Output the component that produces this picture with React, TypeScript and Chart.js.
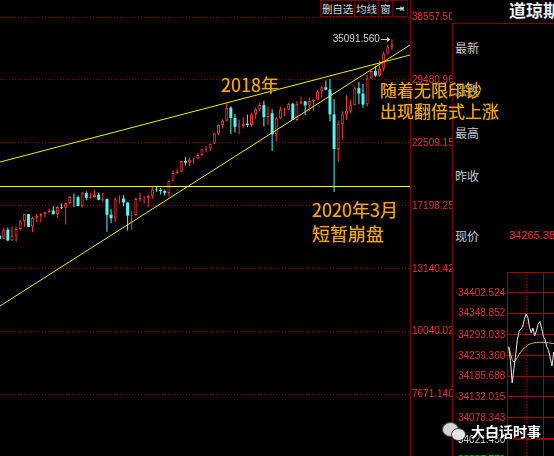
import React, { useEffect, useRef } from 'react';
import { Chart, registerables } from 'chart.js';

Chart.register(...registerables);

// ---------- Monthly candles (Dow Jones), first bar = 2013-06, last = 2021-05 ----------
const startYear = 2013;
const startMonth = 6;

const opens = [
  15116, 14911, 15500, 14810, 15130, 15546, 16086,
  16577, 15699, 16322, 16458, 16581, 16717, 16827, 16563, 17098, 17043, 17391, 17828,
  17823, 17165, 18133, 17776, 17841, 18011, 17620, 17690, 16528, 16285, 17664, 17720,
  17425, 16466, 16517, 17685, 17774, 17787, 17930, 18432, 18401, 18308, 18142, 19124,
  19763, 19864, 20812, 20663, 20940, 21009, 21350, 21891, 21948, 22405, 23377, 24272,
  24719, 26149, 25029, 24103, 24163, 24416, 24271, 25415, 25965, 26458, 25116, 25538,
  23327, 24999, 25916, 25929, 26593, 24815, 26600, 26864, 26403, 26917, 27046, 28051,
  28538, 28256, 25409, 21917, 24346, 25383, 25813, 26428, 28430, 27782, 26502, 29639,
  30606, 29983, 30932, 32982, 33875,
];
const highs = [
  15318, 15635, 15658, 15710, 15722, 16175, 16589,
  16588, 16398, 16588, 16632, 16736, 16978, 17151, 17153, 17350, 17395, 17895, 18103,
  17951, 18244, 18289, 18176, 18351, 18178, 18137, 17717, 16933, 17799, 17978, 17996,
  17426, 16797, 17790, 18168, 17934, 18017, 18623, 18668, 18534, 18400, 19152, 19988,
  20126, 20851, 21169, 21071, 21113, 21535, 21929, 22179, 22420, 23485, 24328, 24876,
  26617, 26307, 25450, 24859, 25087, 25402, 25552, 26167, 26769, 26951, 26277, 25980,
  25149, 26242, 26110, 26696, 26695, 26907, 27398, 26900, 27306, 27121, 28175, 28702,
  29374, 29568, 27102, 24765, 25758, 27581, 27053, 28647, 29199, 28955, 30116, 30637,
  31272, 32010, 33259, 34257, 35091.56,
];
const lows = [
  14551, 14900, 14760, 14777, 14720, 15450, 15703,
  15699, 15340, 16015, 16015, 16334, 16675, 16563, 16333, 16945, 15855, 17278, 17067,
  17136, 17037, 17585, 17715, 17777, 17597, 17465, 15370, 15942, 16014, 17320, 17138,
  15451, 15503, 16404, 17484, 17331, 17063, 17713, 18247, 18020, 17959, 17884, 19069,
  19678, 19832, 20412, 20379, 20553, 20994, 21279, 21600, 21709, 22386, 23242, 23921,
  24660, 23360, 23509, 23344, 23908, 24057, 24077, 24965, 25790, 24123, 24268, 21713,
  22639, 24884, 25208, 25900, 24816, 24680, 26520, 25339, 25744, 25743, 27040, 27325,
  28170, 24681, 18214, 20735, 22790, 24843, 25523, 26419, 26537, 26144, 26277, 29602,
  29857, 29856, 30547, 32787, 33473,
];
const closes = [
  14910, 15500, 14810, 15130, 15546, 16086, 16577,
  15699, 16322, 16458, 16581, 16717, 16827, 16563, 17098, 17043, 17391, 17828, 17823,
  17165, 18133, 17776, 17841, 18011, 17620, 17690, 16528, 16285, 17664, 17720, 17425,
  16466, 16517, 17685, 17774, 17787, 17930, 18432, 18401, 18308, 18142, 19124, 19763,
  19864, 20812, 20663, 20940, 21009, 21350, 21891, 21948, 22405, 23377, 24272, 24719,
  26149, 25029, 24103, 24163, 24416, 24271, 25415, 25965, 26458, 25116, 25538, 23327,
  24999, 25916, 25929, 26593, 24815, 26600, 26864, 26403, 26917, 27046, 28051, 28538,
  28256, 25409, 21917, 24346, 25383, 25813, 26428, 28430, 27782, 26502, 29639, 30606,
  29983, 30932, 32982, 33875, 34265,
];
const months = opens.map((_, i) => {
  const m = startMonth - 1 + i;
  return `${startYear + Math.floor(m / 12)}-${String((m % 12) + 1).padStart(2, '0')}`;
});

// price axis (log) tick values / labels
const yTickValues = [38557.5, 29480.96, 22509.15, 17198.25, 13140.42, 10040.02, 7671.14];
const yTickLabels = ['38557.50', '29480.96', '22509.15', '17198.25', '13140.42', '10040.02', '7671.140'];

// hand-drawn lines: value at the left edge and at the right edge of the plot
const supportLine = [18656, 18656];
const upperTrendLine = [20720, 32766];
const lowerTrendLine = [11183, 34200];

// ---------- intraday mini chart ----------
const intradayMinutes = [0, 3, 6, 9, 12, 15, 18, 21, 24, 27, 30, 33, 36, 39, 42, 45, 48, 51, 54, 57, 60, 63, 66, 69, 72, 75, 78];
const intradayPrice = [
  34262, 34225, 34168, 34205, 34240, 34280, 34302, 34308, 34312, 34332, 34346, 34338, 34312, 34298,
  34310, 34290, 34303, 34320, 34327, 34310, 34288, 34280, 34262, 34252, 34232, 34212, 34248,
];
const intradayAvg = [
  34261, 34245, 34228, 34222, 34226, 34234, 34242, 34248, 34254, 34258, 34262, 34266, 34268, 34270,
  34271, 34272, 34272, 34273, 34273, 34273, 34273, 34273, 34272, 34272, 34271, 34270, 34270,
];
const intradayTickValues = [34402.524, 34348.852, 34293.033, 34239.36, 34185.688, 34132.015, 34078.343, 34021.45, 33967.778];
const intradayTickLabels = ['34402.524', '34348.852', '34293.033', '34239.360', '34185.688', '34132.015', '34078.343', '34021.450', '33967.778'];
const prevClose = 34021.45;
const intradayGridMinutes = [30, 60];
const currentPriceText = '34265.380';

const panelLabels = ['最新', '涨跌', '最高', '昨收'];
const toolbarButtons = ['删自选', '均线', '窗', '⇥'];

const UP = '#ff3a3a';
const DOWN = '#55f6f6';
const GRID_RED = '#7c0000';
const LABEL_RED = '#e8322d';
const NOTE = '#f3a614';

const X_MIN = 0.104;
const X_MAX = 99.38;
const Y_MIN = 5883;
const Y_MAX = 41470;

const mainDecor = {
  id: 'mainDecor',
  afterDraw(chart: any) {
    const { ctx } = chart;
    const ys = chart.scales.y;
    const xs = chart.scales.x;
    ctx.save();
    ctx.font = '10px "Liberation Sans", Arial, sans-serif';
    ctx.textBaseline = 'middle';
    ctx.textAlign = 'left';
    ctx.fillStyle = LABEL_RED;
    yTickValues.forEach((v, i) => ctx.fillText(yTickLabels[i], ys.left + 2, ys.getPixelForValue(v) + 0.5));
    // highest point marker
    let mi = 0;
    highs.forEach((h, i) => { if (h > highs[mi]) mi = i; });
    const px = xs.getPixelForValue(mi);
    const py = Math.round(ys.getPixelForValue(highs[mi])) + 0.5;
    ctx.fillStyle = '#cfcfcf';
    ctx.strokeStyle = '#cfcfcf';
    ctx.textAlign = 'right';
    ctx.fillText(highs[mi].toFixed(3), px - 12, py);
    ctx.lineWidth = 1;
    ctx.beginPath();
    ctx.moveTo(px - 11, py);
    ctx.lineTo(px - 2, py);
    ctx.stroke();
    ctx.beginPath();
    ctx.moveTo(px - 1.5, py);
    ctx.lineTo(px - 5, py - 2.5);
    ctx.lineTo(px - 5, py + 2.5);
    ctx.closePath();
    ctx.fill();
    ctx.restore();
  },
};

const dayDecor = {
  id: 'dayDecor',
  beforeDatasetsDraw(chart: any) {
    const { ctx, chartArea } = chart;
    const xs = chart.scales.x;
    ctx.save();
    ctx.strokeStyle = '#a80000';
    ctx.lineWidth = 1;
    ctx.beginPath();
    ctx.moveTo(chartArea.left, chartArea.top + 0.5);
    ctx.lineTo(chartArea.right, chartArea.top + 0.5);
    ctx.stroke();
    intradayGridMinutes.forEach((t, i) => {
      const x = Math.round(xs.getPixelForValue(t)) + 0.5;
      ctx.setLineDash(i === 0 ? [1, 2] : []);
      ctx.beginPath();
      ctx.moveTo(x, chartArea.top);
      ctx.lineTo(x, chartArea.bottom);
      ctx.stroke();
    });
    ctx.restore();
  },
  afterDraw(chart: any) {
    const { ctx } = chart;
    const ys = chart.scales.y;
    ctx.save();
    ctx.font = '10px "Liberation Sans", Arial, sans-serif';
    ctx.textBaseline = 'middle';
    ctx.textAlign = 'left';
    intradayTickValues.forEach((v, i) => {
      ctx.fillStyle = v > prevClose + 0.01 ? LABEL_RED : v < prevClose - 0.01 ? '#00d000' : '#d0d0d0';
      ctx.fillText(intradayTickLabels[i], 6, ys.getPixelForValue(v) + 0.5);
    });
    ctx.restore();
  },
};

export default function App() {
  const mainRef = useRef<HTMLCanvasElement>(null);
  const dayRef = useRef<HTMLCanvasElement>(null);

  useEffect(() => {
    const isUp = closes.map((c, i) => c >= opens[i]);
    const lineDs = (vals: number[], color: string, width: number) => ({
      type: 'line' as const,
      data: [{ x: X_MIN, y: vals[0] }, { x: X_MAX, y: vals[1] }],
      borderColor: color,
      borderWidth: width,
      pointRadius: 0,
      order: 0,
    });
    const main = new Chart(mainRef.current!, {
      type: 'bar',
      data: {
        labels: months,
        datasets: [
          lineDs(supportLine, '#ffff00', 1),
          lineDs(upperTrendLine, '#eded00', 1),
          lineDs(lowerTrendLine, '#eded00', 1),
          {
            type: 'bar',
            data: months.map((_, i) => ({ x: i, y: [opens[i], closes[i]] })),
            backgroundColor: isUp.map((u) => (u ? '#000000' : DOWN)),
            borderColor: isUp.map((u) => (u ? UP : DOWN)),
            borderWidth: isUp.map((u) => (u ? 1 : 0)),
            borderSkipped: false,
            barThickness: 3,
            grouped: false,
            inflateAmount: 0,
            order: 1,
          } as any,
          {
            type: 'bar',
            data: months.map((_, i) => ({ x: i, y: [lows[i], highs[i]] })),
            backgroundColor: isUp.map((u) => (u ? UP : DOWN)),
            borderWidth: 0,
            barThickness: 1,
            grouped: false,
            inflateAmount: 0,
            order: 2,
          } as any,
        ],
      },
      options: {
        responsive: false,
        animation: false,
        devicePixelRatio: 1,
        layout: { padding: { left: 0, top: 0, bottom: 0, right: 102 } },
        plugins: { legend: { display: false }, tooltip: { enabled: false } },
        scales: {
          x: { type: 'linear', min: X_MIN, max: X_MAX, display: false, offset: false },
          y: {
            type: 'logarithmic',
            position: 'right',
            min: Y_MIN,
            max: Y_MAX,
            afterBuildTicks: (s: any) => { s.ticks = yTickValues.map((v) => ({ value: v })); },
            afterFit: (s: any) => { s.width = 42; },
            ticks: { display: false },
            grid: { color: GRID_RED, lineWidth: 1, drawTicks: false },
            border: { display: true, color: '#7a0000', dash: [1, 2] },
          } as any,
        },
      },
      plugins: [mainDecor],
    } as any);

    const day = new Chart(dayRef.current!, {
      type: 'line',
      data: {
        datasets: [
          {
            data: intradayMinutes.map((t, i) => ({ x: t, y: intradayAvg[i] })),
            borderColor: '#c9c44a',
            borderWidth: 1,
            pointRadius: 0,
            order: 1,
          },
          {
            data: intradayMinutes.map((t, i) => ({ x: t, y: intradayPrice[i] })),
            borderColor: '#ececec',
            borderWidth: 1,
            pointRadius: 0,
            order: 0,
          },
        ],
      },
      options: {
        responsive: false,
        animation: false,
        devicePixelRatio: 1,
        layout: { padding: 0 },
        plugins: { legend: { display: false }, tooltip: { enabled: false } },
        scales: {
          x: { type: 'linear', min: -3, max: 179, display: false },
          y: {
            type: 'linear',
            position: 'left',
            min: 33916.55,
            max: 34455.08,
            afterBuildTicks: (s: any) => { s.ticks = intradayTickValues.map((v) => ({ value: v })); },
            afterFit: (s: any) => { s.width = 55; },
            ticks: { display: false },
            grid: {
              color: '#a80000',
              lineWidth: (c: any) => (Math.abs((c.tick ? c.tick.value : 0) - prevClose) < 0.01 ? 2 : 1),
              drawTicks: false,
            },
            border: { display: true, color: '#a80000' },
          } as any,
        },
      },
      plugins: [dayDecor],
    } as any);

    return () => {
      main.destroy();
      day.destroy();
    };
  }, []);

  const cjk = '"Noto Sans CJK SC", "Noto Sans", sans-serif';
  const note = (text: string, left: number, top: number, size: number) => (
    <div
      style={{
        position: 'absolute', left, top, fontSize: size, lineHeight: `${size}px`, color: NOTE,
        fontFamily: cjk, whiteSpace: 'nowrap', textShadow: '0 0 1px #6a4800, 0 0 1px #6a4800',
      }}
    >
      {text}
    </div>
  );
  const btnPos = [[320, 35], [354, 25], [378, 15], [392, 16]];
  const labelY = [47.5, 90, 132, 175];

  return (
    <div style={{ position: 'fixed', left: 0, top: 0, width: 554, height: 456, background: '#000', overflow: 'hidden', fontFamily: cjk }}>
      <canvas ref={mainRef} width={554} height={456} style={{ position: 'absolute', left: 0, top: 0, width: 554, height: 456 }} />

      {toolbarButtons.map((b, i) => (
        <div
          key={b}
          style={{
            position: 'absolute', left: btnPos[i][0], top: 0, width: btnPos[i][1], height: 17, boxSizing: 'border-box',
            border: '1px solid #6e0000', background: '#000', color: '#d6d6d6', fontSize: 10.5, lineHeight: '15px',
            textAlign: 'center', whiteSpace: 'nowrap', overflow: 'hidden', letterSpacing: i === 0 ? -0.2 : 0,
            fontFamily: i === 3 ? '"DejaVu Sans", sans-serif' : cjk, fontWeight: i === 3 ? 700 : 400,
          }}
        >
          {b}
        </div>
      ))}

      <div style={{ position: 'absolute', left: 452, top: 0, width: 102, height: 456, background: '#000' }}>
        <div style={{ position: 'absolute', left: 0, top: 23, width: 102, height: 433, boxSizing: 'border-box', borderTop: '1px solid #7a0000', borderLeft: '1px solid #7a0000' }} />
        <div style={{ position: 'absolute', left: 57, top: 1, fontSize: 17, lineHeight: '18px', fontWeight: 700, color: '#f0f0f0', whiteSpace: 'nowrap' }}>道琼斯</div>
        {panelLabels.map((l, i) => (
          <div key={l} style={{ position: 'absolute', left: 3, top: labelY[i] - 6.5, fontSize: 12, lineHeight: '13px', color: '#cacaca' }}>{l}</div>
        ))}
        <div style={{ position: 'absolute', left: 3, top: 228.5, fontSize: 12, lineHeight: '13px', color: '#cacaca' }}>现价</div>
        <div style={{ position: 'absolute', left: 57, top: 229, fontSize: 11, lineHeight: '12px', color: LABEL_RED, fontFamily: '"Liberation Sans", Arial, sans-serif', whiteSpace: 'nowrap' }}>{currentPriceText}</div>
      </div>

      <canvas ref={dayRef} width={160} height={208} style={{ position: 'absolute', left: 452, top: 272, width: 160, height: 208 }} />

      {note('2018年', 221, 75, 18)}
      {note('2020年3月', 312, 199.5, 18)}
      {note('短暂崩盘', 312, 224, 18)}
      {note('随着无限印钞', 380, 81, 17)}
      {note('出现翻倍式上涨', 380, 101.5, 17)}

      <div style={{ position: 'absolute', left: 442, top: 422, width: 24, height: 20 }}>
        <div style={{ position: 'absolute', left: 0, top: 0, width: 15, height: 13, borderRadius: '50%', background: '#d4d4d4', border: '1px solid #444' }} />
        <div style={{ position: 'absolute', left: 9, top: 6, width: 13, height: 11, borderRadius: '50%', background: '#e4e4e4', border: '1px solid #444' }} />
      </div>
      <div
        style={{
          position: 'absolute', left: 471, top: 423, fontSize: 14, lineHeight: '16px', color: '#ffffff', fontWeight: 700,
          whiteSpace: 'nowrap', textShadow: '0 0 2px #000, 0 0 2px #000, 1px 1px 1px #000',
        }}
      >
        大白话时事
      </div>
    </div>
  );
}
